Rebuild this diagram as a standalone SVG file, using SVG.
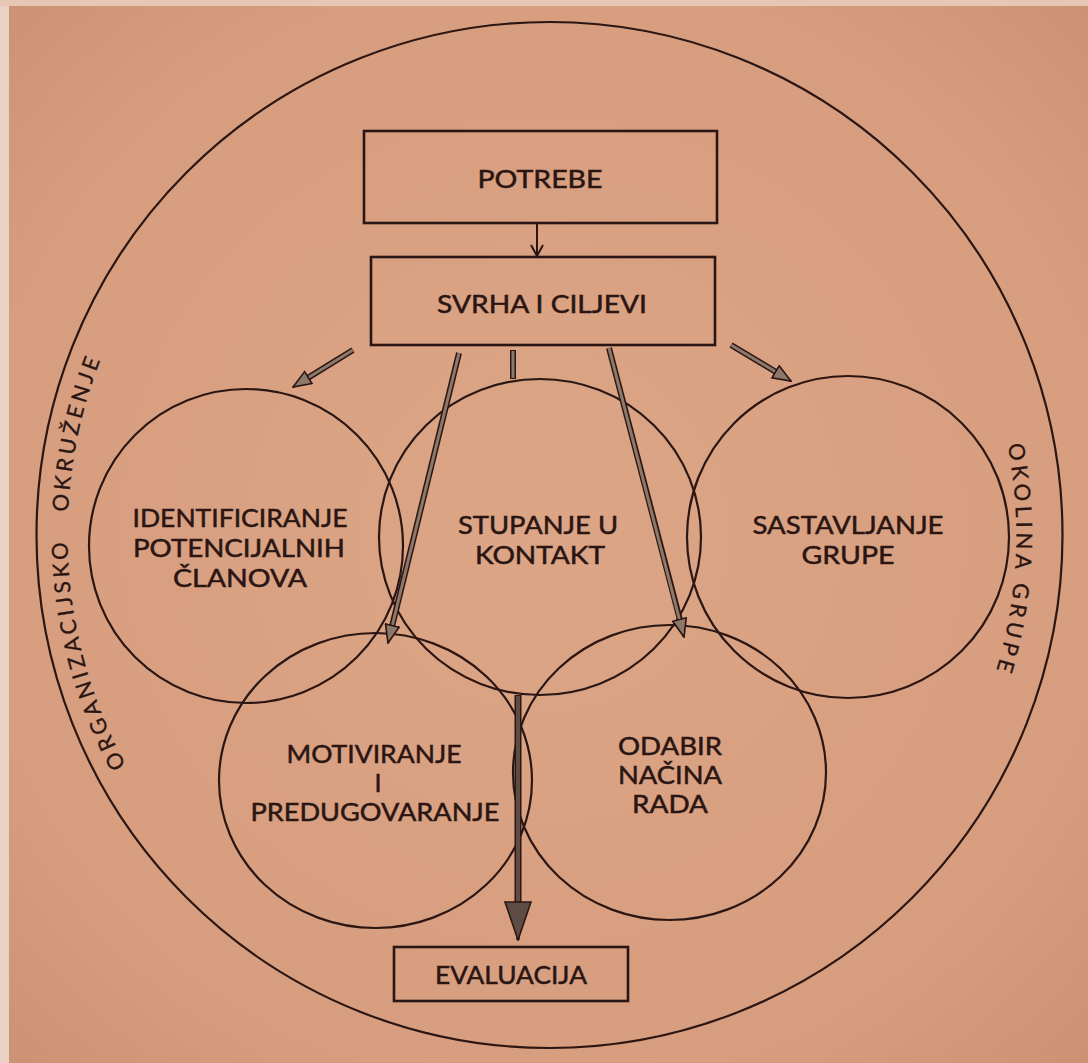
<svg xmlns="http://www.w3.org/2000/svg" width="1088" height="1063" viewBox="0 0 1088 1063">
  <defs>
    <radialGradient id="paper" cx="0.5" cy="0.5" r="0.75">
      <stop offset="0" stop-color="#dca686"/>
      <stop offset="0.7" stop-color="#d69d7e"/>
      <stop offset="1" stop-color="#c98f71"/>
    </radialGradient>
    <marker id="head" viewBox="0 0 20 16" markerWidth="20" markerHeight="16" refX="19" refY="8" orient="auto" markerUnits="userSpaceOnUse">
      <path d="M1,1 L19,8 L1,15 Z" fill="#8d786c" stroke="#2b1613" stroke-width="1.6" stroke-linejoin="miter"/>
    </marker>
    <marker id="bighead" viewBox="0 0 40 28" markerWidth="40" markerHeight="28" refX="39" refY="14" orient="auto" markerUnits="userSpaceOnUse">
      <path d="M1,1 L39,14 L1,27 Z" fill="#5e4c45" stroke="#2b1613" stroke-width="1.6" stroke-linejoin="miter"/>
    </marker>
    <path id="leftArc" d="M140.7,790.4 A482,482 0 0,1 140.7,279.6"/>
    <path id="rightArc" d="M961.8,316 A467,467 0 0,1 961.8,754"/>
  </defs>
  <style>
    .shape { fill: none; stroke: #2b1613; stroke-width: 2.2; }
    .box { fill: none; stroke: #2b1613; stroke-width: 2.6; }
    .lbl { font-family: "Lato", "Liberation Sans", sans-serif; font-size: 25px; fill: #2a1512; stroke: #2a1512; stroke-width: 0.5; text-anchor: middle; }
    .side { font-family: "Lato", "Liberation Sans", sans-serif; font-size: 22px; fill: #2a1512; stroke: #2a1512; stroke-width: 0.3; letter-spacing: 3.6px; }
    .shaft-out { stroke: #2b1613; stroke-width: 6; fill: none; }
    .shaft-in { stroke: #8d786c; stroke-width: 3; fill: none; }
    .big-out { stroke: #2b1613; stroke-width: 7; fill: none; }
    .big-in { stroke: #5e4c45; stroke-width: 4; fill: none; }
  </style>

  <rect x="0" y="0" width="1088" height="1063" fill="url(#paper)"/>
  <rect x="0" y="0" width="9" height="1063" fill="#e9d2c4"/>
  <rect x="0" y="0" width="1088" height="6" fill="#e6c7b3"/>

  <g id="environment">
    <circle class="shape" cx="549.5" cy="535" r="513"/>
    <text class="side"><textPath href="#leftArc" startOffset="29">ORGANIZACIJSKO</textPath></text>
    <text class="side"><textPath href="#leftArc" startOffset="292">OKRUŽENJE</textPath></text>
    <text class="side" style="letter-spacing:4.4px"><textPath href="#rightArc" startOffset="137">OKOLINA GRUPE</textPath></text>
  </g>

  <g id="potrebe">
    <rect class="box" x="364" y="131" width="353" height="92"/>
    <text class="lbl" x="540" y="188" textLength="125" lengthAdjust="spacingAndGlyphs">POTREBE</text>
  </g>

  <g id="svrha">
    <rect class="box" x="371" y="257" width="344" height="88"/>
    <text class="lbl" x="542" y="313" textLength="210" lengthAdjust="spacingAndGlyphs">SVRHA I CILJEVI</text>
  </g>

  <g id="identificiranje">
    <circle class="shape" cx="246" cy="546" r="157"/>
    <text class="lbl" x="240" y="527" textLength="215" lengthAdjust="spacingAndGlyphs">IDENTIFICIRANJE</text>
    <text class="lbl" x="239" y="557" textLength="212" lengthAdjust="spacingAndGlyphs">POTENCIJALNIH</text>
    <text class="lbl" x="240" y="587" textLength="134" lengthAdjust="spacingAndGlyphs">ČLANOVA</text>
  </g>

  <g id="stupanje">
    <ellipse class="shape" cx="540" cy="537" rx="161" ry="158"/>
    <text class="lbl" x="538" y="534" textLength="160" lengthAdjust="spacingAndGlyphs">STUPANJE U</text>
    <text class="lbl" x="540" y="564" textLength="130" lengthAdjust="spacingAndGlyphs">KONTAKT</text>
  </g>

  <g id="sastavljanje">
    <circle class="shape" cx="848" cy="537" r="161"/>
    <text class="lbl" x="848" y="534" textLength="191" lengthAdjust="spacingAndGlyphs">SASTAVLJANJE</text>
    <text class="lbl" x="848" y="564" textLength="93" lengthAdjust="spacingAndGlyphs">GRUPE</text>
  </g>

  <g id="motiviranje">
    <ellipse class="shape" cx="375.5" cy="780.5" rx="156.5" ry="147.5"/>
    <text class="lbl" x="374" y="763" textLength="175" lengthAdjust="spacingAndGlyphs">MOTIVIRANJE</text>
    <text class="lbl" x="378" y="792">I</text>
    <text class="lbl" x="375" y="821" textLength="249" lengthAdjust="spacingAndGlyphs">PREDUGOVARANJE</text>
  </g>

  <g id="odabir">
    <ellipse class="shape" cx="669.5" cy="772.5" rx="156.5" ry="147.5"/>
    <text class="lbl" x="670" y="755" textLength="104" lengthAdjust="spacingAndGlyphs">ODABIR</text>
    <text class="lbl" x="670" y="784" textLength="104" lengthAdjust="spacingAndGlyphs">NAČINA</text>
    <text class="lbl" x="670" y="813" textLength="76" lengthAdjust="spacingAndGlyphs">RADA</text>
  </g>

  <g id="evaluacija">
    <rect class="box" x="394" y="947" width="234" height="54"/>
    <text class="lbl" x="511" y="984" textLength="152" lengthAdjust="spacingAndGlyphs">EVALUACIJA</text>
  </g>

  <g id="connectors">
    <line x1="537" y1="223" x2="537" y2="256" stroke="#2b1613" stroke-width="2"/>
    <path d="M531,245 L537,256 L543,245" fill="none" stroke="#2b1613" stroke-width="2"/>

    <line class="shaft-out" x1="353" y1="350" x2="305" y2="379.6"/>
    <line class="shaft-in" x1="353" y1="350" x2="293" y2="387" marker-end="url(#head)"/>

    <line class="shaft-out" x1="731" y1="345" x2="776" y2="372"/>
    <line class="shaft-in" x1="731" y1="345" x2="791" y2="381" marker-end="url(#head)"/>

    <line class="shaft-out" x1="459" y1="353" x2="391.5" y2="628.5"/>
    <line class="shaft-in" x1="459" y1="353" x2="388" y2="643" marker-end="url(#head)"/>

    <line class="shaft-out" x1="609" y1="348" x2="680" y2="620"/>
    <line class="shaft-in" x1="609" y1="348" x2="684" y2="637" marker-end="url(#head)"/>

    <line class="shaft-out" x1="513" y1="350" x2="513" y2="379"/>
    <line class="shaft-in" x1="513" y1="351" x2="513" y2="378"/>

    <line class="big-out" x1="518" y1="695" x2="518" y2="903"/>
    <line class="big-in" x1="518" y1="696" x2="518" y2="940" marker-end="url(#bighead)"/>
  </g>
</svg>
